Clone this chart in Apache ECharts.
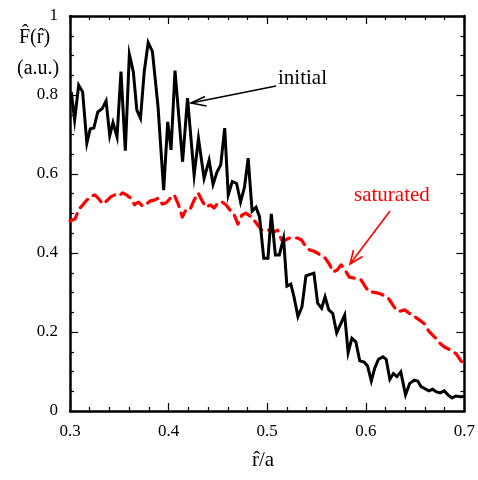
<!DOCTYPE html>
<html>
<head>
<meta charset="utf-8">
<script src="https://cdn.jsdelivr.net/npm/echarts@6/dist/echarts.min.js"></script>
<style>
  html, body { margin: 0; padding: 0; background: #fff; }
  #chart { width: 478px; height: 480px; }
</style>
</head>
<body>
<div id="chart"></div>
<script>
// Radial profile of the fluctuation amplitude, initial vs saturated state
var initialR = [0.3013,0.3047,0.3088,0.3128,0.3171,0.3205,0.3242,0.3282,0.3325,0.3366,
  0.3403,0.3436,0.3477,0.3517,0.3561,0.3602,0.3642,0.3678,0.3715,0.3753,
  0.3793,0.3836,0.3893,0.3950,0.3991,0.4025,0.4065,0.4142,0.4192,0.4259,
  0.4303,0.4360,0.4411,0.4451,0.4491,0.4529,0.4569,0.4605,0.4646,0.4690,
  0.4730,0.4770,0.4807,0.4847,0.4887,0.4922,0.4965,0.5008,0.5042,0.5083,
  0.5123,0.5166,0.5200,0.5240,0.5272,0.5312,0.5353,0.5393,0.5435,0.5474,
  0.5512,0.5552,0.5587,0.5625,0.5665,0.5705,0.5748,0.5786,0.5821,0.5859,
  0.5899,0.5939,0.5983,0.6018,0.6056,0.6090,0.6129,0.6174,0.6207,0.6244,
  0.6280,0.6315,0.6355,0.6403,0.6446,0.6491,0.6527,0.6560,0.6597,0.6638,
  0.6678,0.6713,0.6753,0.6796,0.6834,0.6874,0.6913,0.6960,0.7000];
var initialF = [0.808,0.737,0.825,0.808,0.678,0.714,0.717,0.757,0.765,0.785,
  0.697,0.730,0.694,0.859,0.659,0.903,0.859,0.762,0.741,0.859,
  0.933,0.910,0.770,0.559,0.732,0.661,0.862,0.631,0.792,0.597,
  0.690,0.589,0.635,0.574,0.605,0.623,0.716,0.547,0.581,0.576,
  0.529,0.567,0.640,0.506,0.516,0.492,0.387,0.387,0.499,0.395,
  0.395,0.437,0.316,0.321,0.289,0.239,0.264,0.342,0.346,0.349,
  0.273,0.260,0.289,0.256,0.247,0.198,0.222,0.243,0.148,0.184,
  0.175,0.127,0.124,0.114,0.076,0.108,0.131,0.137,0.131,0.080,
  0.095,0.087,0.099,0.041,0.070,0.078,0.076,0.062,0.057,0.051,
  0.055,0.049,0.046,0.051,0.041,0.033,0.038,0.036,0.037];

var saturatedR = [0.3000,0.3050,0.3091,0.3131,0.3171,0.3212,0.3252,0.3292,0.3332,0.3373,
  0.3413,0.3453,0.3494,0.3534,0.3574,0.3615,0.3655,0.3695,0.3736,0.3776,
  0.3816,0.3856,0.3897,0.3937,0.3977,0.4018,0.4058,0.4098,0.4139,0.4179,
  0.4219,0.4259,0.4300,0.4340,0.4380,0.4421,0.4461,0.4501,0.4542,0.4582,
  0.4622,0.4662,0.4703,0.4743,0.4783,0.4824,0.4864,0.4904,0.4945,0.4985,
  0.5025,0.5065,0.5106,0.5146,0.5186,0.5227,0.5267,0.5307,0.5348,0.5388,
  0.5428,0.5469,0.5509,0.5549,0.5589,0.5630,0.5670,0.5710,0.5751,0.5791,
  0.5831,0.5872,0.5912,0.5952,0.5992,0.6033,0.6073,0.6113,0.6154,0.6194,
  0.6234,0.6275,0.6315,0.6355,0.6395,0.6436,0.6476,0.6516,0.6557,0.6597,
  0.6637,0.6678,0.6718,0.6758,0.6798,0.6839,0.6879,0.6919,0.6960,0.7000];
var saturatedF = [0.481,0.486,0.511,0.522,0.534,0.544,0.547,0.537,0.524,0.532,
  0.542,0.547,0.544,0.552,0.547,0.539,0.522,0.529,0.519,0.524,
  0.532,0.534,0.539,0.524,0.527,0.539,0.547,0.524,0.491,0.511,
  0.511,0.534,0.552,0.532,0.516,0.522,0.514,0.527,0.529,0.522,
  0.509,0.499,0.473,0.496,0.501,0.494,0.484,0.471,0.458,0.458,
  0.458,0.453,0.458,0.433,0.433,0.438,0.438,0.438,0.433,0.418,
  0.408,0.405,0.400,0.392,0.387,0.372,0.352,0.357,0.370,0.357,
  0.339,0.337,0.334,0.332,0.316,0.301,0.301,0.299,0.296,0.291,
  0.284,0.268,0.253,0.253,0.256,0.248,0.243,0.235,0.228,0.220,
  0.203,0.192,0.182,0.170,0.162,0.157,0.152,0.144,0.129,0.114];

function pairs(xs, ys) {
  var out = [];
  for (var i = 0; i < xs.length; i++) out.push([xs[i], ys[i]]);
  return out;
}

var serif = '"Liberation Serif", "DejaVu Serif", serif';
var chart = echarts.init(document.getElementById('chart'), null, { renderer: 'canvas' });

function xAxisDef(pos, showLabels) {
  return {
    type: 'value', position: pos, min: 0.3, max: 0.7, interval: 0.1,
    axisLine: { show: true, onZero: false, lineStyle: { color: '#000', width: 2.5 } },
    axisTick: { show: true, inside: true, length: 8, lineStyle: { color: '#000', width: 1.2 } },
    minorTick: { show: true, splitNumber: 5, length: 4, lineStyle: { color: '#000', width: 1.2 } },
    axisLabel: { show: showLabels, color: '#000', fontFamily: serif, fontSize: 17, margin: 12 },
    splitLine: { show: false }
  };
}
function yAxisDef(pos, showLabels) {
  return {
    type: 'value', position: pos, min: 0, max: 1, interval: 0.2,
    axisLine: { show: true, onZero: false, lineStyle: { color: '#000', width: 2.5 } },
    axisTick: { show: true, inside: true, length: 8, lineStyle: { color: '#000', width: 1.2 } },
    minorTick: { show: true, splitNumber: 4, length: 4, lineStyle: { color: '#000', width: 1.2 } },
    axisLabel: { show: showLabels, color: '#000', fontFamily: serif, fontSize: 17, margin: 12 },
    splitLine: { show: false }
  };
}

chart.setOption({
  animation: false,
  backgroundColor: '#fff',
  grid: { left: 70, right: 11, top: 16, bottom: 69, containLabel: false },
  xAxis: [xAxisDef('bottom', true), xAxisDef('top', false)],
  yAxis: [yAxisDef('left', true), yAxisDef('right', false)],
  series: [
    {
      name: 'saturated', type: 'line', xAxisIndex: 0, yAxisIndex: 0,
      data: pairs(saturatedR, saturatedF), showSymbol: false, symbol: 'none',
      lineStyle: { color: '#ff0000', width: 3.2, type: [11, 7], cap: 'round', join: 'round' },
      z: 3
    },
    {
      name: 'initial', type: 'line', xAxisIndex: 0, yAxisIndex: 0,
      data: pairs(initialR, initialF), showSymbol: false, symbol: 'none',
      lineStyle: { color: '#000', width: 3, join: 'miter' },
      z: 4
    }
  ],
  graphic: [
    // axis titles
    { type: 'text', left: 19, top: 28, style: { text: 'F\u0302(r\u0302)', font: '20px ' + serif, fill: '#000' } },
    { type: 'text', left: 17, top: 59, style: { text: '(a.u.)', font: '20px ' + serif, fill: '#000' } },
    { type: 'text', left: 252, top: 450, style: { text: 'r\u0302/a', font: '21px ' + serif, fill: '#000' } },
    // "initial" annotation
    { type: 'text', left: 278, top: 68, style: { text: 'initial', font: '21px ' + serif, fill: '#000' } },
    { type: 'polyline', shape: { points: [[276, 86], [191, 103]] }, style: { stroke: '#000', lineWidth: 1.6, fill: null } },
    { type: 'polyline', shape: { points: [[205, 96.5], [191, 103], [206.5, 106]] }, style: { stroke: '#000', lineWidth: 1.6, fill: null } },
    // "saturated" annotation
    { type: 'text', left: 354, top: 185, style: { text: 'saturated', font: '21px ' + serif, fill: '#ff0000' } },
    { type: 'polyline', shape: { points: [[390, 211], [350, 264]] }, style: { stroke: '#ff0000', lineWidth: 1.6, fill: null } },
    { type: 'polyline', shape: { points: [[353.5, 250], [350, 264], [362.5, 256.5]] }, style: { stroke: '#ff0000', lineWidth: 1.6, fill: null } }
  ]
});
</script>
</body>
</html>
